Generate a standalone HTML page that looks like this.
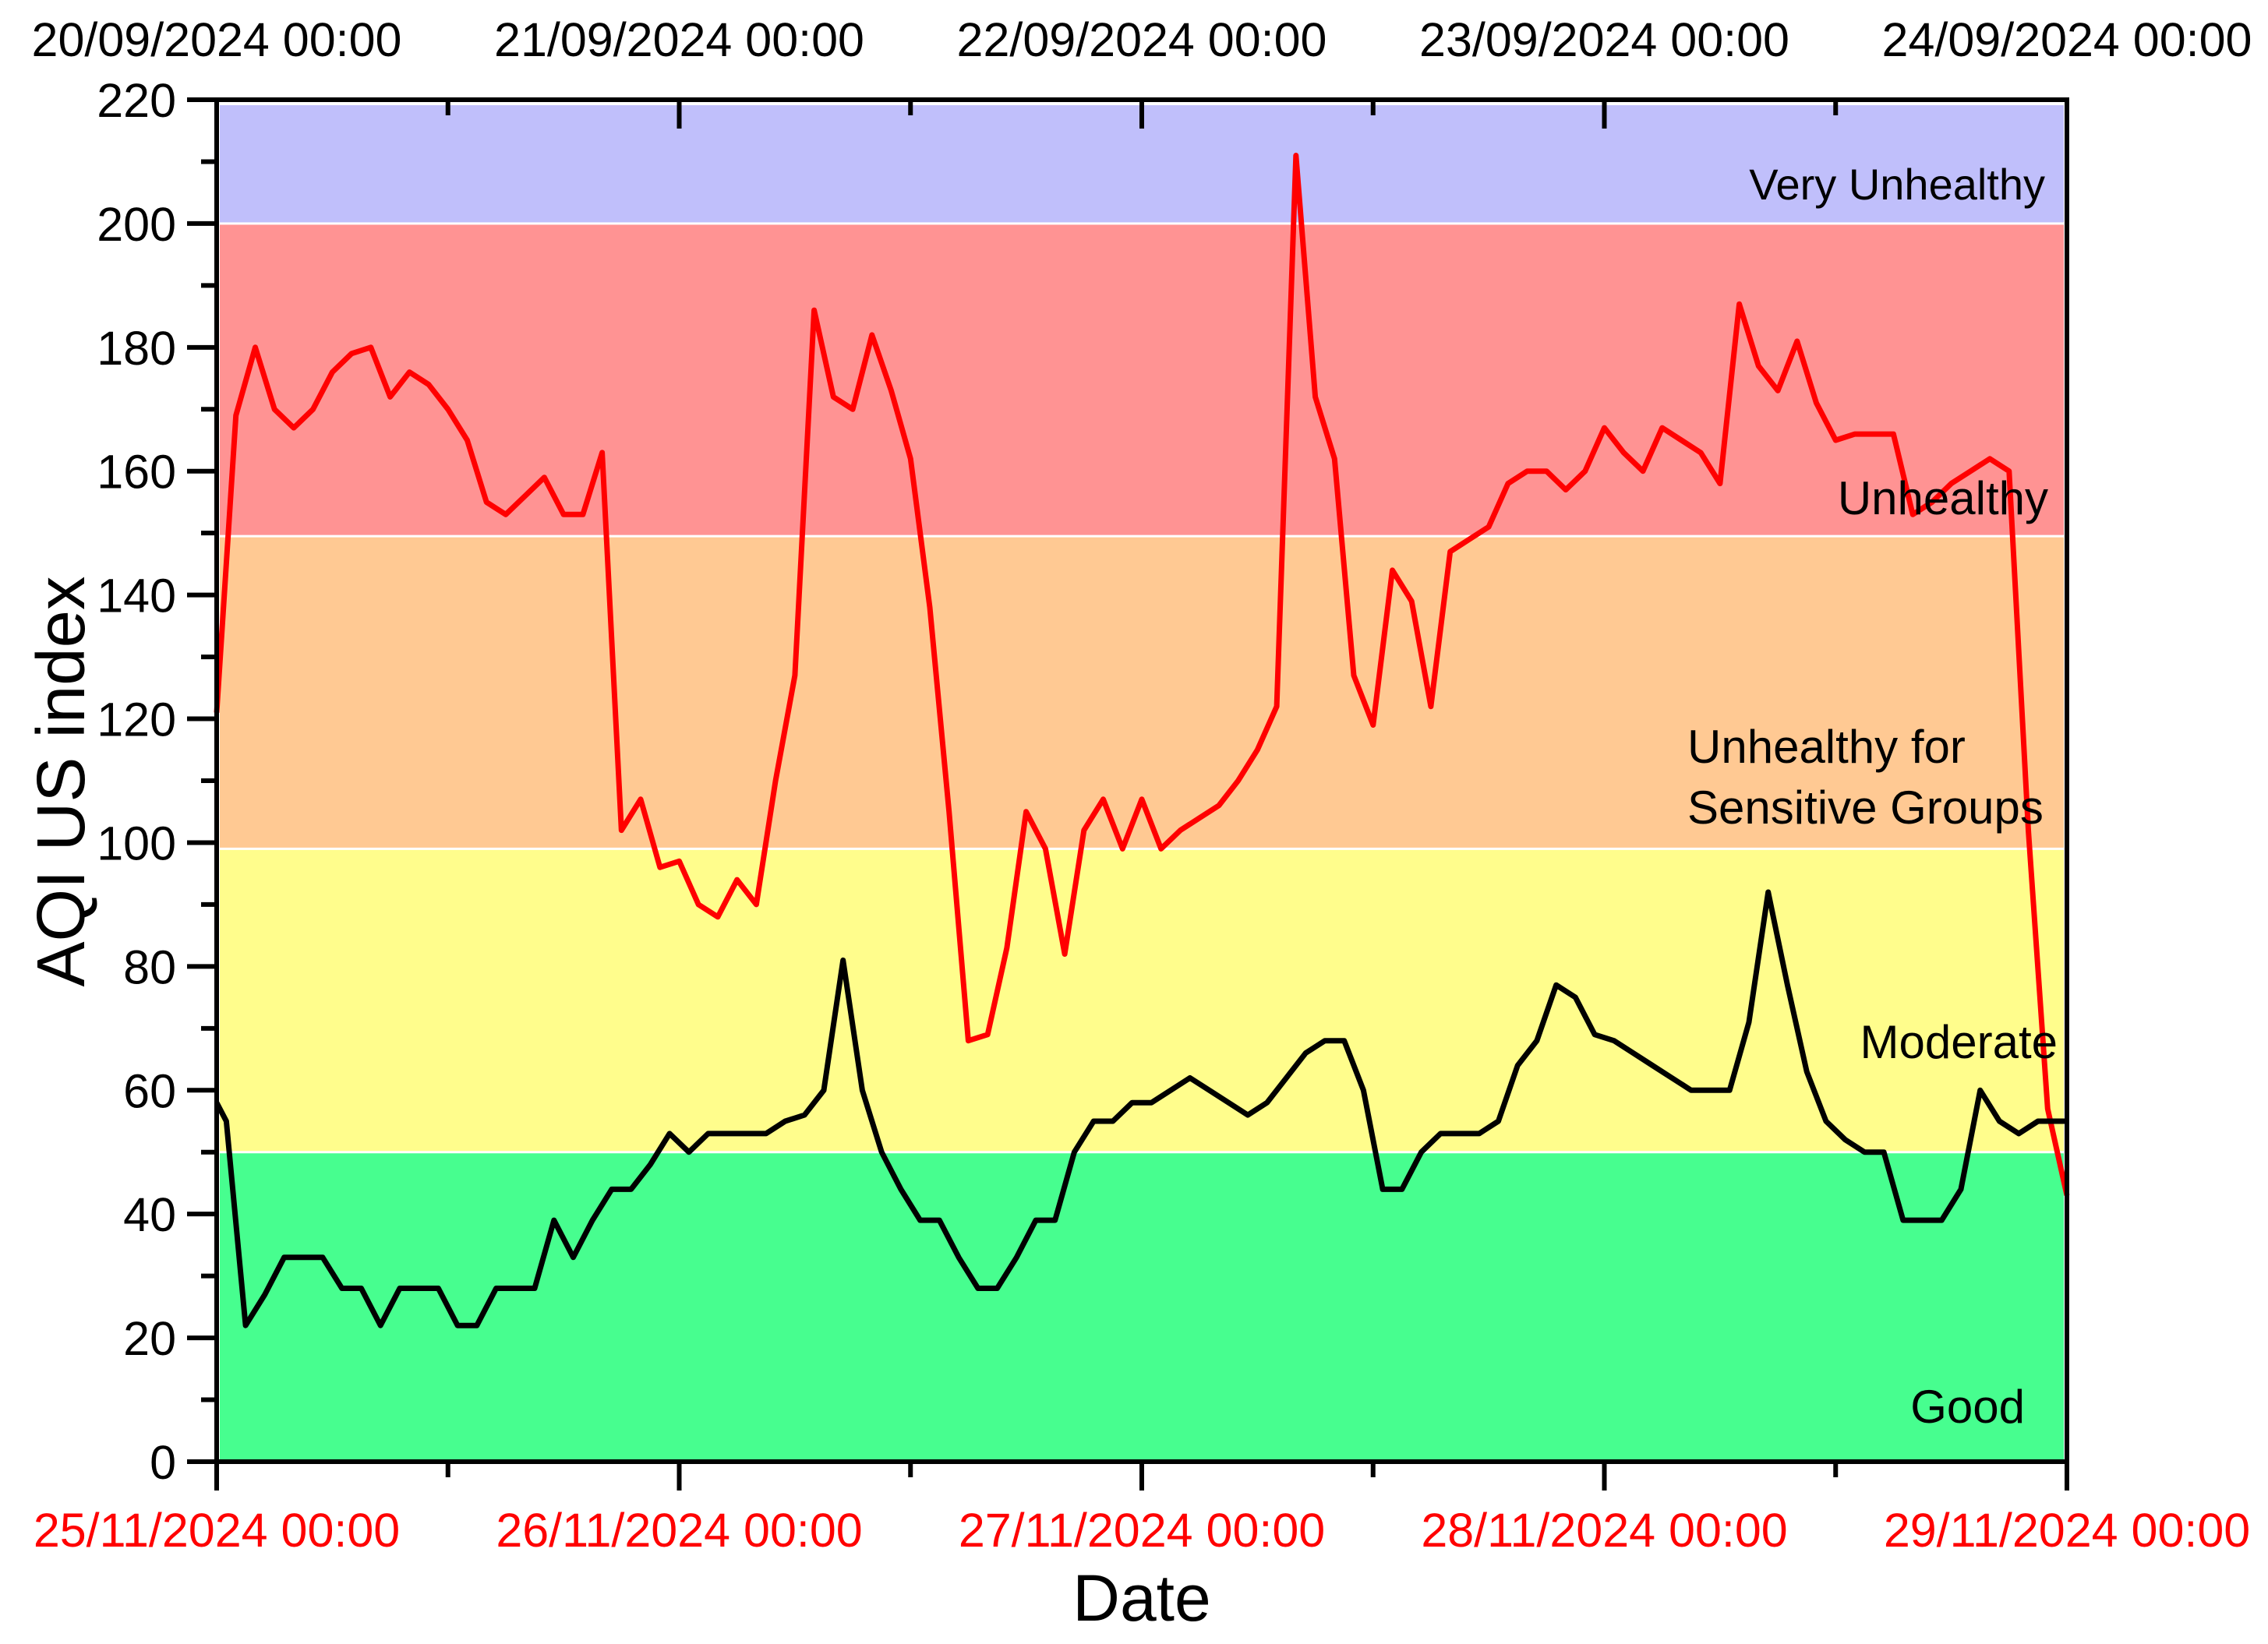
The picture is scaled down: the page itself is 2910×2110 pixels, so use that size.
<!DOCTYPE html>
<html><head><meta charset="utf-8"><style>
html,body{margin:0;padding:0;background:#fff;}
svg{display:block;font-family:"Liberation Sans",Arial,sans-serif;}
</style></head><body>
<svg id="chart" width="2910" height="2110" viewBox="0 0 2910 2110" xmlns="http://www.w3.org/2000/svg">
<g id="bands"></g>
<g id="series"></g>
<g id="axes"></g>
<g id="labels"></g>
</svg>
<script>
const bandNames = ["Good","Moderate","Unhealthy for Sensitive Groups","Unhealthy","Very Unhealthy"];
const bandLow = [0, 50, 99, 149.5, 200];
const bandHigh = [50, 99, 149.5, 200, 219.5];
const bandColors = ["#47fe8f","#fffd8c","#ffc993","#ff9393","#c0bffb"];
const yTicks = [0,20,40,60,80,100,120,140,160,180,200,220];
const topLabels = ["20/09/2024 00:00","21/09/2024 00:00","22/09/2024 00:00","23/09/2024 00:00","24/09/2024 00:00"];
const bottomLabels = ["25/11/2024 00:00","26/11/2024 00:00","27/11/2024 00:00","28/11/2024 00:00","29/11/2024 00:00"];
const redValues = [121,169,180,170,167,170,176,179,180,172,176,174,170,165,155,153,156,159,153,153,
163,102,107,96,97,90,88,94,90,110,127,186,172,170,182,173,162,138,105,68,
69,83,105,99,82,102,107,99,107,99,102,104,106,110,115,122,211,172,162,127,
119,144,139,122,147,149,151,158,160,160,157,160,167,163,160,167,165,163,158,187,
177,173,181,171,165,166,166,166,153,155,158,160,162,160,102,57,43];
const blackStart = [58,55];
const blackValues = [22,27,33,33,33,28,28,22,28,28,28,22,22,28,28,28,39,33,39,44,
44,48,53,50,53,53,53,53,55,56,60,81,60,50,44,39,39,33,28,28,
33,39,39,50,55,55,58,58,60,62,60,58,56,58,62,66,68,68,60,44,
44,50,53,53,53,55,64,68,77,75,69,68,66,64,62,60,60,60,71,92,
77,63,55,52,50,50,39,39,39,44,60,55,53,55];
const blackEnd = 55;

const NS="http://www.w3.org/2000/svg";
const L=278,R=2652,T=128,B=1876,HOURS=96,YMAX=220;
const xS=h=>L+(R-L)*h/HOURS;
const yS=v=>B-(B-T)*v/YMAX;
function mk(tag,attrs,parent){const e=document.createElementNS(NS,tag);for(const k in attrs)e.setAttribute(k,attrs[k]);parent.appendChild(e);return e;}
const gB=document.getElementById('bands'),gS=document.getElementById('series'),gA=document.getElementById('axes'),gL=document.getElementById('labels');

bandLow.forEach((lo,i)=>{
  const y1=yS(bandHigh[i]),y2=yS(lo);
  const r=mk('rect',{x:L+4,y:y1+(i<4?1.5:3),width:R-L-8,height:y2-y1-(i<4?1.5:3)-(i===0?3:1.5),fill:bandColors[i]},gB);
  
  
});

let redPts=redValues.map((v,i)=>xS(i).toFixed(1)+','+yS(v).toFixed(1)).join(' ');
const red=mk('polyline',{points:redPts,fill:'none',stroke:'#ff0000','stroke-width':7,'stroke-linejoin':'round'},gS);


let bp=[[0,blackStart[0]],[0.5,blackStart[1]]];
blackValues.forEach((v,i)=>bp.push([1.5+i,v]));
bp.push([96,blackEnd]);
const black=mk('polyline',{points:bp.map(p=>xS(p[0]).toFixed(1)+','+yS(p[1]).toFixed(1)).join(' '),fill:'none',stroke:'#000','stroke-width':7,'stroke-linejoin':'round'},gS);



const fr=mk('rect',{x:L,y:T,width:R-L,height:B-T,fill:'none',stroke:'#000','stroke-width':6},gA);


for(let v=0;v<=220;v+=10){
  const major=v%20===0;
  const t=mk('line',{x1:L-(major?38:20),x2:L,y1:yS(v),y2:yS(v),stroke:'#000','stroke-width':6},gA);
  
  
}
yTicks.forEach(v=>{
  const t=mk('text',{x:L-52,y:yS(v)+22,'font-size':61,'text-anchor':'end',fill:'#000'},gL);
  t.textContent=v;
  
  
});
for(let h=0;h<=96;h+=12){
  const major=h%24===0;
  const tb=mk('line',{x1:xS(h),x2:xS(h),y1:B,y2:B+(major?37:20),stroke:'#000','stroke-width':6},gA);
  
  
  if(h>0&&h<96){
    const tt=mk('line',{x1:xS(h),x2:xS(h),y1:T,y2:T+(major?37:20),stroke:'#000','stroke-width':6},gA);
    
    
  }
}
topLabels.forEach((s,i)=>{
  const t=mk('text',{x:xS(i*24),y:72,'font-size':61,'text-anchor':'middle',fill:'#000'},gL);
  t.textContent=s;
  
  
});
bottomLabels.forEach((s,i)=>{
  const t=mk('text',{x:xS(i*24),y:1985,'font-size':61,'text-anchor':'middle',fill:'#ff0000'},gL);
  t.textContent=s;
  
  
});
const yt=mk('text',{x:0,y:0,'font-size':87,'text-anchor':'middle',fill:'#000',transform:'translate(108,1003) rotate(-90)'},gL);
yt.textContent='AQI US index';


const xt=mk('text',{x:1465,y:2080,'font-size':84,'text-anchor':'middle',fill:'#000'},gL);
xt.textContent='Date';


const bl=[['Very Unhealthy',2624,256,56,'end'],['Unhealthy',2628,660,60,'end'],['Unhealthy for',2165,979,60,'start'],['Sensitive Groups',2165,1057,60,'start'],['Moderate',2640,1358,60,'end'],['Good',2598,1826,60,'end']];
bl.forEach(b=>{
  const t=mk('text',{x:b[1],y:b[2],'font-size':b[3],'text-anchor':b[4],fill:'#000'},gL);
  t.textContent=b[0];
  
  
});
</script>
</body></html>
